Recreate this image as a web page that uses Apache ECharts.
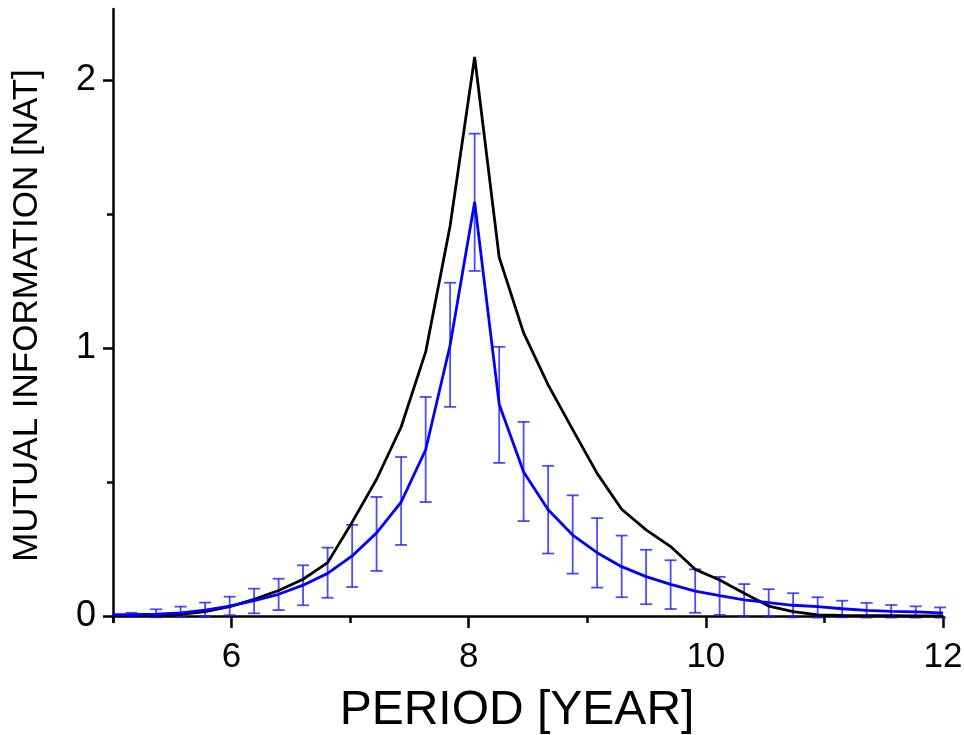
<!DOCTYPE html>
<html>
<head>
<meta charset="utf-8">
<script src="https://cdn.jsdelivr.net/npm/echarts@6/dist/echarts.min.js"></script>
<style>
html,body{margin:0;padding:0;background:#fff;}
#chart{width:964px;height:735px;}
</style>
</head>
<body>
<div id="chart"></div>
<script>
// Periods (years) of the sampled points
const periods = [5.157, 5.364, 5.570, 5.777, 5.984, 6.190, 6.397, 6.603, 6.810, 7.017,
  7.223, 7.430, 7.637, 7.843, 8.050, 8.257, 8.463, 8.670, 8.877, 9.083,
  9.290, 9.496, 9.703, 9.910, 10.116, 10.323, 10.530, 10.736, 10.943, 11.150,
  11.356, 11.563, 11.770, 11.976];
const lineStartPeriod = 5.0;
const lineEndPeriod = 12.0;

// Black curve (including the two end points at 5 and 12)
const blackValues = [0.002,
  0.002, 0.002, 0.006, 0.016, 0.035, 0.062, 0.095, 0.137, 0.199, 0.350,
  0.510, 0.705, 0.985, 1.455, 2.085, 1.338, 1.056, 0.862, 0.695, 0.532,
  0.398, 0.321, 0.259, 0.174, 0.134, 0.085, 0.037, 0.016, 0.004, 0.002,
  0.001, 0.001, 0.000, 0.000,
  0.000];

// Blue curve (including the two end points at 5 and 12)
const blueValues = [0.005,
  0.005, 0.007, 0.012, 0.022, 0.037, 0.057, 0.081, 0.115, 0.159, 0.224,
  0.310, 0.425, 0.620, 1.010, 1.544, 0.790, 0.537, 0.396, 0.302, 0.236,
  0.184, 0.147, 0.118, 0.093, 0.076, 0.060, 0.050, 0.040, 0.035, 0.027,
  0.021, 0.0175, 0.015, 0.012,
  0.012];

// Error bar bounds of the blue curve
const errUpper = [0.012, 0.025, 0.035, 0.050, 0.072, 0.102, 0.139, 0.189, 0.255, 0.340,
  0.444, 0.593, 0.817, 1.243, 1.799, 1.004, 0.724, 0.560, 0.450, 0.365,
  0.300, 0.247, 0.208, 0.174, 0.146, 0.119, 0.100, 0.085, 0.070, 0.057,
  0.049, 0.041, 0.036, 0.032];
const errLower = [-0.003, -0.005, -0.004, -0.002, 0.003, 0.010, 0.022, 0.040, 0.068, 0.108,
  0.168, 0.265, 0.425, 0.780, 1.287, 0.571, 0.354, 0.233, 0.158, 0.106,
  0.070, 0.044, 0.026, 0.012, 0.004, 0.000, -0.004, -0.005, -0.006, -0.005,
  -0.006, -0.006, -0.006, -0.006];

// Axis tick labels
const xMajorTicks = [6, 8, 10, 12];
const xMinorTicks = [5, 7, 9, 11];
const yMajorTicks = [0, 1, 2];
const yMinorTicks = [0.5, 1.5];

const linePeriods = [lineStartPeriod, ...periods, lineEndPeriod];
const blackData = linePeriods.map((p, i) => [p, blackValues[i]]);
const blueData = linePeriods.map((p, i) => [p, blueValues[i]]);
const errData = periods.map((p, i) => [p, errLower[i], errUpper[i]]);

const FONT = '"Liberation Sans", Arial, sans-serif';
const xRange = {min: 5, max: 12};
const yRange = {min: -0.0224, max: 2.264};
const axisLine = {show: true, lineStyle: {color: '#000', width: 2.5}};

const chart = echarts.init(document.getElementById('chart'), null, {renderer: 'canvas'});
chart.setOption({
  animation: false,
  backgroundColor: '#fff',
  grid: {left: 113, right: 21, top: 9, bottom: 113, containLabel: false, outerBoundsMode: 'none'},
  xAxis: [{
    type: 'value', ...xRange, position: 'bottom',
    axisLine: axisLine,
    axisTick: {show: true, inside: false, length: 12, customValues: xMajorTicks,
      lineStyle: {color: '#000', width: 2.5}},
    axisLabel: {show: true, customValues: xMajorTicks, margin: 18,
      color: '#000', fontSize: 35, fontFamily: FONT},
    splitLine: {show: false},
    name: 'PERIOD [YEAR]', nameLocation: 'middle', nameGap: 65,
    nameTextStyle: {color: '#000', fontSize: 48, fontFamily: FONT, padding: [0, 22, 0, 0]}
  }, {
    type: 'value', ...xRange, position: 'bottom', gridIndex: 0,
    axisLine: {show: false},
    axisTick: {show: true, inside: false, length: 7, customValues: xMinorTicks,
      lineStyle: {color: '#000', width: 2.5}},
    axisLabel: {show: false},
    splitLine: {show: false}
  }],
  yAxis: [{
    type: 'value', ...yRange, position: 'left',
    axisLine: axisLine,
    axisTick: {show: true, inside: false, length: 10, customValues: yMajorTicks,
      lineStyle: {color: '#000', width: 2.5}},
    axisLabel: {show: true, customValues: yMajorTicks, margin: 17,
      color: '#000', fontSize: 36, fontFamily: FONT},
    splitLine: {show: false},
    name: 'MUTUAL INFORMATION [NAT]', nameLocation: 'middle', nameGap: 68,
    nameTextStyle: {color: '#000', fontSize: 35, fontFamily: FONT}
  }, {
    type: 'value', ...yRange, position: 'left', gridIndex: 0,
    axisLine: {show: false},
    axisTick: {show: true, inside: false, length: 6, customValues: yMinorTicks,
      lineStyle: {color: '#000', width: 2.5}},
    axisLabel: {show: false},
    splitLine: {show: false}
  }],
  series: [{
    type: 'custom',
    name: 'error',
    xAxisIndex: 0, yAxisIndex: 0,
    data: errData,
    encode: {x: 0, y: [1, 2]},
    renderItem: function (params, api) {
      const x = api.value(0);
      const top = api.coord([x, api.value(2)]);
      const bot = api.coord([x, api.value(1)]);
      const hw = 6;
      const style = {stroke: 'rgba(30,30,255,0.8)', lineWidth: 1.8, fill: null};
      return {
        type: 'group',
        children: [
          {type: 'line', shape: {x1: top[0], y1: top[1], x2: bot[0], y2: bot[1]}, style: style},
          {type: 'line', shape: {x1: top[0] - hw, y1: top[1], x2: top[0] + hw, y2: top[1]}, style: style},
          {type: 'line', shape: {x1: bot[0] - hw, y1: bot[1], x2: bot[0] + hw, y2: bot[1]}, style: style}
        ]
      };
    },
    z: 2
  }, {
    type: 'line',
    name: 'black',
    data: blackData,
    showSymbol: false,
    symbol: 'none',
    lineStyle: {color: '#000', width: 2.8},
    z: 3
  }, {
    type: 'line',
    name: 'blue',
    data: blueData,
    showSymbol: false,
    symbol: 'none',
    lineStyle: {color: '#0000ff', width: 2.8},
    z: 4
  }]
});
</script>
</body>
</html>
